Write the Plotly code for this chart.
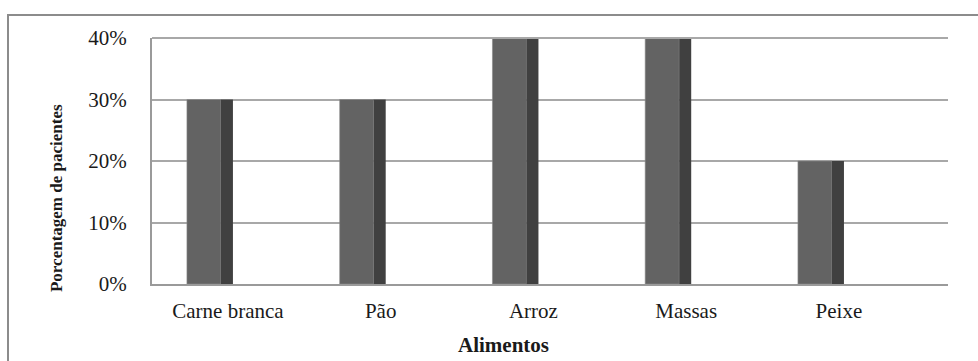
import plotly.graph_objects as go

# Share of patients per food item
categories = ["Carne branca", "Pão", "Arroz", "Massas", "Peixe"]
percentages = [0.30, 0.30, 0.40, 0.40, 0.20]
y_ticks = [0.0, 0.1, 0.2, 0.3, 0.4]
y_tick_labels = ["0%", "10%", "20%", "30%", "40%"]

FRONT = "#636363"
SIDE = "#404040"
GRID = "#a8a8a8"
FONT = "Liberation Serif, Times New Roman, serif"

positions = list(range(len(categories)))
front_w = 0.2226
side_w = 0.0786
side_off = front_w / 2 + side_w / 2
label_off = 0.157

fig = go.Figure()
# front face of each column
fig.add_trace(go.Bar(
    x=positions, y=percentages, width=front_w,
    marker=dict(color=FRONT, line=dict(color="#8a8a8a", width=0.6)),
    hoverinfo="skip", showlegend=False,
))
# darker side face giving the 3-D look
fig.add_trace(go.Bar(
    x=[p + side_off for p in positions], y=percentages, width=side_w,
    marker=dict(color=SIDE, line=dict(width=0)),
    hoverinfo="skip", showlegend=False,
))

fig.update_layout(
    width=978, height=361,
    margin=dict(l=152, r=30, t=38, b=77),
    paper_bgcolor="white", plot_bgcolor="white",
    barmode="overlay",
    font=dict(family=FONT, color="#1a1a1a"),
    xaxis=dict(
        range=[-0.340, 4.871],
        tickvals=[p + label_off for p in positions],
        ticktext=categories,
        tickfont=dict(size=21, family=FONT, color="#1a1a1a"),
        showgrid=False, zeroline=False,
        showline=True, linecolor="#9a9a9a", linewidth=2,
        ticks="", ticklabelstandoff=7,
        fixedrange=True,
    ),
    yaxis=dict(
        range=[0, 0.4],
        tickvals=y_ticks, ticktext=y_tick_labels,
        tickfont=dict(size=21, family=FONT, color="#1a1a1a"),
        showgrid=True, gridcolor=GRID, gridwidth=2,
        zeroline=False,
        showline=True, linecolor="#9a9a9a", linewidth=2,
        ticks="", ticklabelstandoff=19,
        fixedrange=True,
    ),
    shapes=[
        # outer chart frame
        dict(type="rect", xref="paper", yref="paper",
             x0=-0.1809, x1=1.6, y0=-0.8, y1=1.0935,
             line=dict(color="#8c8c8c", width=2), fillcolor="rgba(0,0,0,0)",
             layer="above"),
        # top border line of the plot area
        dict(type="line", xref="paper", yref="paper",
             x0=0, x1=1, y0=1, y1=1,
             line=dict(color=GRID, width=2)),
    ],
    annotations=[
        dict(text="<b>Porcentagem de pacientes</b>", textangle=-90,
             xref="paper", yref="paper", x=-0.1193, y=0.3496,
             showarrow=False, font=dict(size=17, family=FONT, color="#1a1a1a"),
             xanchor="center", yanchor="middle"),
        dict(text="<b>Alimentos</b>",
             xref="paper", yref="paper", x=0.441, y=-0.248,
             showarrow=False, font=dict(size=21, family=FONT, color="#1a1a1a"),
             xanchor="center", yanchor="middle"),
    ],
)

fig.write_html("out.html")
